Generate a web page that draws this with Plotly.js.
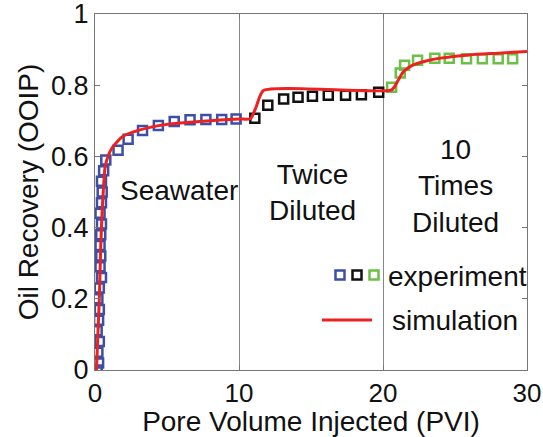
<!DOCTYPE html>
<html><head><meta charset="utf-8">
<script src="https://cdn.plot.ly/plotly-3.0.1.min.js"></script>
<style>body{margin:0;background:#fff}#c{width:543px;height:437px}</style>
</head><body><div id="c"></div>
<script>
const seaX = [0.15,0.25,0.2,0.3,0.15,0.25,0.3,0.2,0.3,0.45,0.35,0.4,0.35,0.4,0.45,0.35,0.45,0.5,0.45,0.6,0.75,1.6,2.3,3.3,4.4,5.5,6.6,7.7,8.8,9.8];
const seaY = [0.00,0.02,0.05,0.08,0.11,0.14,0.17,0.20,0.23,0.26,0.29,0.32,0.35,0.38,0.41,0.44,0.47,0.50,0.53,0.56,0.59,0.617,0.648,0.673,0.687,0.698,0.703,0.704,0.704,0.705];
const twiceX = [11.1,12.0,13.1,14.1,15.1,16.2,17.4,18.5,19.7];
const twiceY = [0.707,0.744,0.761,0.766,0.769,0.772,0.772,0.773,0.780];
const tenX = [20.6,21.2,21.5,22.4,23.6,24.6,25.8,26.9,28.0,29.0];
const tenY = [0.794,0.834,0.856,0.870,0.876,0.876,0.874,0.874,0.874,0.874];
const simX = [0.1,0.2,0.3,0.4,0.5,0.6,0.7,0.9,1.2,1.9,3,5,7.5,10,10.8,11.2,11.7,20.6,21,21.4,22,23,24,26,28,30];
const simY = [0,0.1,0.2,0.35,0.45,0.52,0.57,0.6,0.625,0.655,0.673,0.69,0.699,0.705,0.706,0.74,0.785,0.787,0.81,0.837,0.855,0.868,0.876,0.885,0.89,0.895];
const xTicks = [0,10,20,30];
const yTicks = [0,0.2,0.4,0.6,0.8,1];
const yTickText = ['0','0.2','0.4','0.6','0.8','1'];

const BLUE = '#3b4fa6', BLACK = '#111111', GREEN = '#6cbf47', RED = '#ee2020';
const FONT = 'Liberation Sans, Arial, sans-serif';
const mk = c => ({symbol:'square-open', size:9, color:c, line:{color:c, width:2.5}});

const traces = [
  {x:seaX, y:seaY, mode:'markers', marker:mk(BLUE), showlegend:false},
  {x:twiceX, y:twiceY, mode:'markers', marker:mk(BLACK), showlegend:false},
  {x:tenX, y:tenY, mode:'markers', marker:mk(GREEN), showlegend:false},
  {x:simX, y:simY, mode:'lines', line:{color:RED, width:3, shape:'spline', smoothing:0.6}, showlegend:false}
];

// legend drawn manually (pixel -> paper)
const L=95, R=527, T=14, B=370;
const px = v => (v-L)/(R-L), py = v => (B-v)/(B-T);
const sq = (cx,cy,c) => ({type:'rect', xref:'paper', yref:'paper', x0:px(cx-4.5), x1:px(cx+4.5), y0:py(cy+4.5), y1:py(cy-4.5), line:{color:c, width:2.5}, fillcolor:'rgba(0,0,0,0)'});

const layout = {
  width:543, height:437,
  margin:{l:95, r:16, t:14, b:67},
  paper_bgcolor:'#fff', plot_bgcolor:'#fff',
  font:{family:FONT, size:26, color:'#111'},
  xaxis:{range:[0,30], tickvals:xTicks, ticks:'inside', ticklen:5, tickcolor:'#777', showline:true, linecolor:'#777', linewidth:1, mirror:'ticks', showgrid:true, gridcolor:'#888', gridwidth:1, zeroline:false,
    ticklabeloverflow:'allow', tickfont:{size:26}, title:{text:'Pore Volume Injected (PVI)', font:{size:28}, standoff:8}},
  yaxis:{range:[0,1], tickvals:yTicks, ticktext:yTickText, ticks:'inside', ticklen:5, tickcolor:'#777', showline:true, linecolor:'#777', linewidth:1, mirror:'ticks', showgrid:false, zeroline:false,
    ticklabeloverflow:'allow', tickfont:{size:27}, title:{text:'Oil Recovery (OOIP)', font:{size:28}, standoff:4}},
  annotations:[
    {x:5.8, y:0.504, xref:'x', yref:'y', text:'Seawater', showarrow:false, font:{size:28}},
    {x:15.1, y:0.50, xref:'x', yref:'y', text:'Twice<br>Diluted', showarrow:false, font:{size:28}},
    {x:25.0, y:0.518, xref:'x', yref:'y', text:'10<br>Times<br>Diluted', showarrow:false, font:{size:28}},
    {x:px(386), y:py(276), xref:'paper', yref:'paper', xanchor:'left', yanchor:'middle', text:'experiment', showarrow:false, font:{size:28}},
    {x:px(390), y:py(320), xref:'paper', yref:'paper', xanchor:'left', yanchor:'middle', text:'simulation', showarrow:false, font:{size:28}}
  ],
  shapes:[
    sq(340,275,BLUE), sq(357,275,BLACK), sq(374,275,GREEN),
    {type:'line', xref:'paper', yref:'paper', x0:px(322), x1:px(372), y0:py(320), y1:py(320), line:{color:RED, width:3}}
  ]
};
Plotly.newPlot('c', traces, layout, {displayModeBar:false, staticPlot:true});
</script></body></html>
